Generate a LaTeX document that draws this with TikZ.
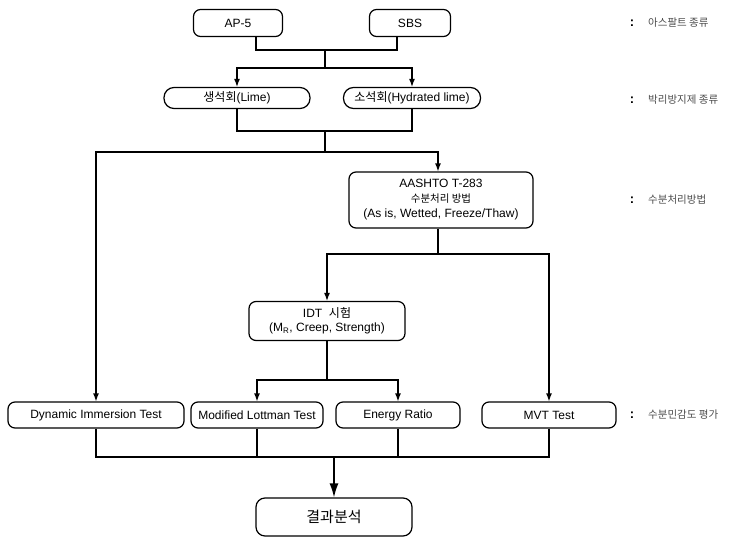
\documentclass[tikz,border=0pt]{standalone}
\usepackage{fontspec}
\setmainfont{Liberation Sans}
\newfontfamily\kr{Noto Sans CJK KR}
\usetikzlibrary{arrows.meta}
\begin{document}
\begin{tikzpicture}[x=1pt,y=-1pt,
  box/.style={draw, line width=1.2pt, rounded corners=7pt, inner sep=0pt, align=center, font=\fontsize{12}{14}\selectfont},
  pill/.style={box, rounded corners=10pt},
  line/.style={line width=1.3pt},
  arr/.style={line width=1.3pt, -{Latex[length=8pt,width=6pt]}},
  bigarr/.style={line width=1.5pt, -{Latex[length=14pt,width=9pt]}},
  colon/.style={font=\bfseries\fontsize{13}{14}\selectfont, inner sep=0pt},
  lab/.style={font=\kr\fontsize{10.5}{12}\selectfont, text=black!70, anchor=west, inner sep=0pt}]
\useasboundingbox (0,0) rectangle (742,543);

% nodes
\node[box, minimum width=89pt, minimum height=27pt] (ap5) at (238,23) {AP-5};
\node[box, minimum width=81pt, minimum height=27pt] (sbs) at (410,23) {SBS};
\node[pill, minimum width=146pt, minimum height=21pt] (lime) at (237,98) {{\kr 생석회}(Lime)};
\node[pill, minimum width=137pt, minimum height=21pt] (hyd) at (412,98) {{\kr 소석회}(Hydrated lime)};
\node[box, minimum width=184pt, minimum height=56pt] (aas) at (441,200) {AASHTO T-283\\[1pt]{\kr\fontsize{10.5}{12}\selectfont 수분처리 방법}\\[1pt](As is, Wetted, Freeze/Thaw)};
\node[box, minimum width=156pt, minimum height=39pt] (idt) at (327,321) {IDT \ {\kr 시험}\\(M\textsubscript{R}, Creep, Strength)};
\node[box, minimum width=176pt, minimum height=26pt] (dyn) at (96,415) {Dynamic Immersion Test};
\node[box, minimum width=132pt, minimum height=26pt] (mod) at (257,415) {Modified Lottman Test};
\node[box, minimum width=124pt, minimum height=26pt] (ene) at (398,415) {Energy Ratio};
\node[box, minimum width=134pt, minimum height=26pt] (mvt) at (549,415) {MVT Test};
\node[box, rounded corners=9pt, minimum width=156pt, minimum height=38pt, font=\kr\fontsize{15}{17}\selectfont] (res) at (334,517) {결과분석};

% right-side labels
\node[colon] (k1) at (632,23) {:};
\node[lab] (l1) at (648,23) {아스팔트 종류};
\node[colon] (k2) at (632,100) {:};
\node[lab] (l2) at (648,100) {박리방지제 종류};
\node[colon] (k3) at (632,200) {:};
\node[lab] (l3) at (648,200) {수분처리방법};
\node[colon] (k4) at (632,415) {:};
\node[lab] (l4) at (648,415) {수분민감도 평가};

% connectors
\coordinate (a1) at (256,50);
\coordinate (a2) at (397,50);
\coordinate (a3) at (325,50);
\coordinate (a4) at (325,68);
\draw[line] (ap5.south -| a1) -- (a1) -- (a2) -- (sbs.south -| a2);
\draw[line] (a3) -- (a4);
\draw[arr] (a4) -| (lime.north);
\draw[arr] (a4) -| (hyd.north);

\coordinate (b1) at (325,131);
\coordinate (b2) at (325,152);
\coordinate (b3) at (438,152);
\draw[line] (lime.south) |- (b1) -| (hyd.south);
\draw[line] (b1) -- (b2);
\draw[arr] (b2) -| (dyn.north);
\draw[arr] (b2) -- (b3) -- (aas.north -| b3);

\coordinate (c1) at (438,254);
\draw[line] (aas.south -| c1) -- (c1);
\draw[arr] (c1) -| (idt.north);
\draw[arr] (c1) -| (mvt.north);

\coordinate (d1) at (327,380);
\draw[line] (idt.south) -- (d1);
\draw[arr] (d1) -| (mod.north);
\draw[arr] (d1) -| (ene.north);

\coordinate (e1) at (334,457);
\draw[line] (dyn.south) |- (e1);
\draw[line] (mvt.south) |- (e1);
\draw[line] (mod.south) -- (mod.south |- e1);
\draw[line] (ene.south) -- (ene.south |- e1);
\draw[bigarr] (e1) -- (res.north);
\end{tikzpicture}
\end{document}
